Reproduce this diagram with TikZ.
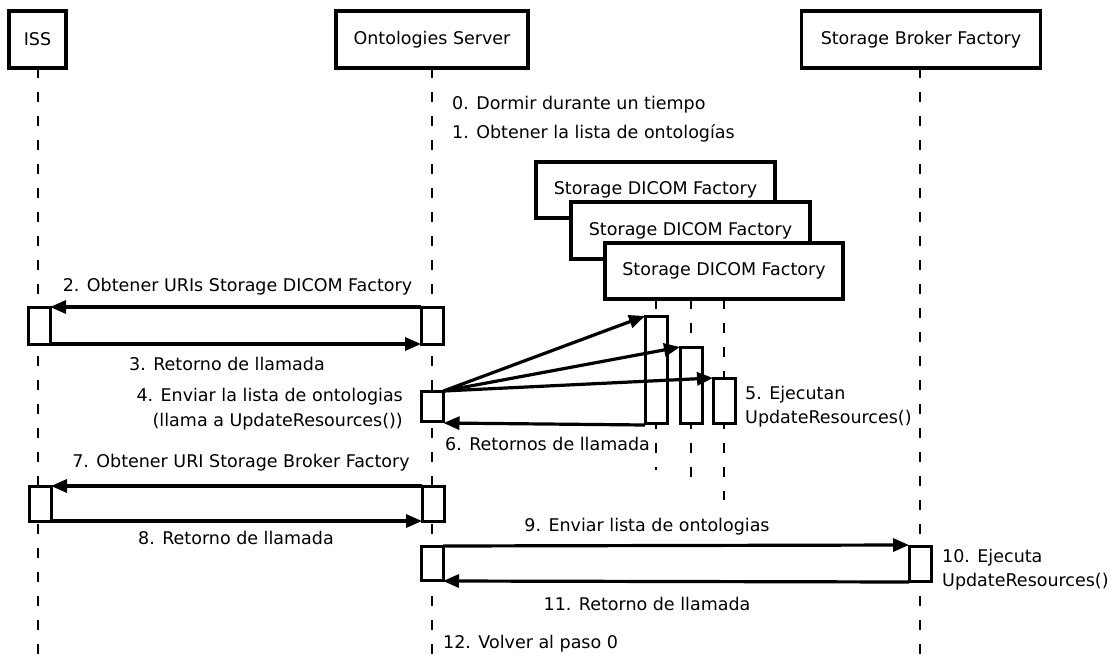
\documentclass[tikz,border=0pt]{standalone}
\usepackage{fontspec}
\setmainfont{DejaVu Sans}
\usetikzlibrary{arrows.meta}
\begin{document}
\begin{tikzpicture}[x=1pt,y=-1pt,
  every node/.style={font=\fontsize{17.5}{24.5}\selectfont},
  obj/.style={draw,fill=white,line width=3.2pt,inner sep=0pt,outer sep=0pt,minimum height=57pt},
  act/.style={draw,fill=white,line width=3pt,inner sep=0pt,outer sep=0pt,minimum width=22pt},
  life/.style={line width=1.5pt,dash pattern=on 10pt off 14pt},
  msg/.style={line width=3.2pt,-{Triangle[length=16pt,width=13pt]}},
  lbl/.style={inner sep=0pt}]
\useasboundingbox (0,0) rectangle (1114,658);
% lifeline ends
\coordinate (issE) at (38,658);
\coordinate (ontE) at (432,658);
\coordinate (brkE) at (920,658);
\coordinate (d1E) at (656,470);
\coordinate (d2E) at (691,484);
\coordinate (d3E) at (724,500);
\coordinate (d1S) at (656,299);
\coordinate (d2S) at (691,299);
\coordinate (d3S) at (724,299);
% objects
\node[obj,minimum width=57pt] (iss) at (37.5,39.5) {ISS};
\node[obj,minimum width=192pt] (ont) at (432,39.5) {Ontologies Server};
\node[obj,minimum width=239pt] (brk) at (921,39.5) {Storage Broker Factory};
% lifelines
\draw[life] (38,68) -- (issE);
\draw[life] (ont.south) -- (ontE);
\draw[life] (920,68) -- (brkE);
\draw[life] (d1S) -- (d1E);
\draw[life] (d2S) -- (d2E);
\draw[life] (d3S) -- (d3E);
% DICOM factories
\node[obj,minimum width=239pt,minimum height=56pt] (dc1) at (655.5,190) {Storage DICOM Factory};
\node[obj,minimum width=239pt,minimum height=57pt] (dc2) at (690.5,230.5) {Storage DICOM Factory};
\node[obj,minimum width=238pt,minimum height=56pt] (dc3) at (724,271) {Storage DICOM Factory};
% activations
\node[act,minimum height=37pt] (issA) at (39,325.5) {};
\node[act,minimum height=37pt] (ontA) at (432,325.5) {};
\node[act,minimum height=30pt] (ontB) at (432.5,406) {};
\node[act,minimum height=107pt] (dA) at (656,369.5) {};
\node[act,minimum height=76pt] (dB) at (691,385) {};
\node[act,minimum height=45pt] (dC) at (724,400.5) {};
\node[act,minimum height=35pt] (issC) at (40,503.5) {};
\node[act,minimum height=35pt] (ontC) at (433,503.5) {};
\node[act,minimum height=34pt] (ontD) at (432,563) {};
\node[act,minimum height=35pt] (brkA) at (920,563.5) {};
% messages
\draw[msg] (ontA.north west) -- (issA.north east);
\draw[msg] (issA.south east) -- (ontA.south west);
\draw[msg] (ontB.north east) -- (dA.north west);
\draw[msg] (ontB.north east) -- (dB.north west);
\draw[msg] (ontB.north east) -- (dC.north west);
\draw[msg] ([yshift=-2pt]dA.south west) -- ([yshift=-2pt]ontB.south east);
\draw[msg] (ontC.north west) -- (issC.north east);
\draw[msg] (issC.south east) -- (ontC.south west);
\draw[msg] (ontD.north east) -- ([yshift=1pt]brkA.north west);
\draw[msg] ([yshift=-1pt]brkA.south west) -- ([yshift=-1pt]ontD.south east);
% labels
\node[lbl,anchor=west] (l0) at (452,105) {0. Dormir durante un tiempo};
\node[lbl,anchor=west] (l1) at (452,133) {1. Obtener la lista de ontologías};
\node[lbl] (l2) at (237.5,287) {2. Obtener URIs Storage DICOM Factory};
\node[lbl] (l3) at (227,364) {3. Retorno de llamada};
\node[lbl,anchor=east,align=right] (l4) at (403,409) {4. Enviar la lista de ontologias\\(llama a UpdateResources())};
\node[lbl,anchor=west,align=left] (l5) at (745,406.5) {5. Ejecutan\\UpdateResources()};
\node[lbl,anchor=west] (l6) at (445,444) {6. Retornos de llamada};
\node[lbl] (l7) at (241,463) {7. Obtener URI Storage Broker Factory};
\node[lbl] (l8) at (236,538) {8. Retorno de llamada};
\node[lbl] (l9) at (647,527) {9. Enviar lista de ontologias};
\node[lbl,anchor=west,align=left] (l10) at (942,569.5) {10. Ejecuta\\UpdateResources()};
\node[lbl] (l11) at (647,604) {11. Retorno de llamada};
\node[lbl,anchor=west] (l12) at (443,644) {12. Volver al paso 0};
\end{tikzpicture}
\end{document}
